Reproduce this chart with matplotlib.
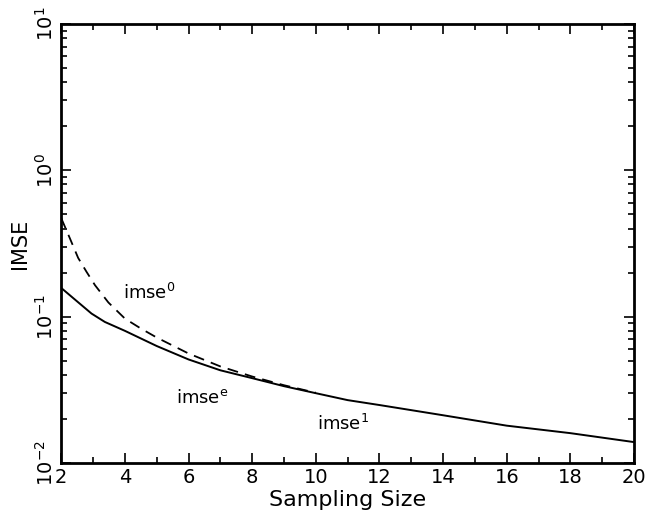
import numpy as np
import matplotlib.pyplot as plt
from matplotlib.ticker import MultipleLocator, LogLocator

# values
size = [2, 2.5, 2.95, 3.37, 4, 5, 6, 7, 8, 9, 10, 11, 12, 14, 16, 18, 20]
imse_e = [0.157, 0.127, 0.105, 0.092, 0.080, 0.063, 0.051, 0.043,
          0.038, 0.0335, 0.030, 0.0269, 0.0249, 0.0212, 0.0180, 0.0160,
          0.0139]
size0 = [2, 2.27, 2.53, 2.79, 3.06, 3.48, 4, 4.5, 5, 6, 7, 8, 9, 10]
imse_0 = [0.47, 0.343, 0.252, 0.203, 0.164, 0.125, 0.097, 0.083, 0.072,
          0.056, 0.0457, 0.039, 0.0340, 0.0302]

fig = plt.figure(figsize=(6.45, 5.31), dpi=100)
ax = fig.add_axes([0.095, 0.128, 0.888, 0.827])

ax.plot(size, imse_e, color='black', lw=1.4)
ax.plot(size0, imse_0, color='black', lw=1.3, ls=(0, (6, 4)))

ax.set_yscale('log')
ax.set_xlim(2, 20)
ax.set_ylim(1e-2, 1e1)
ax.xaxis.set_major_locator(MultipleLocator(2))
ax.xaxis.set_minor_locator(MultipleLocator(1))
ax.yaxis.set_minor_locator(LogLocator(base=10, subs=np.arange(2, 10)))
ax.tick_params(which='both', direction='in', top=True, right=True,
               labelsize=14, width=1.2)
ax.tick_params(which='major', length=7)
ax.tick_params(which='minor', length=4)
for lab in ax.get_yticklabels():
    lab.set_rotation(90)
    lab.set_va('center')
for sp in ax.spines.values():
    sp.set_linewidth(2)

ax.set_xlabel('Sampling Size', fontsize=16, labelpad=2)
ax.set_ylabel('IMSE', fontsize=15, labelpad=3)

ax.text(4.77, 0.145, r'imse$^\mathrm{0}$', fontsize=13, ha='center', va='center')
ax.text(6.43, 0.0278, r'imse$^\mathrm{e}$', fontsize=13, ha='center', va='center')
ax.text(10.84, 0.0185, r'imse$^\mathrm{1}$', fontsize=13, ha='center', va='center')

fig.savefig('out.png', dpi=100)
